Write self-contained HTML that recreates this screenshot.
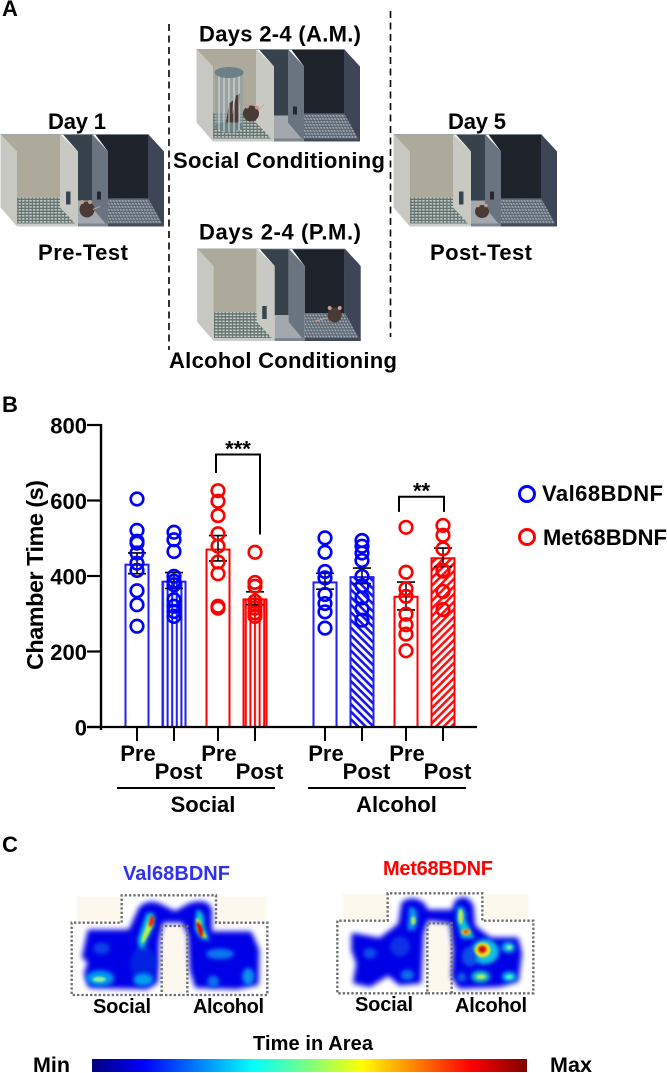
<!DOCTYPE html>
<html lang="en">
<head>
<meta charset="utf-8">
<title>Chamber time figure</title>
<style>
html,body{margin:0;padding:0;background:#fff;width:667px;height:1073px;overflow:hidden}
svg{display:block}
text{font-family:"Liberation Sans",Arial,sans-serif;font-weight:bold;fill:#000;font-size:22px}
</style>
</head>
<body>
<svg id="fig" xmlns="http://www.w3.org/2000/svg" width="667" height="1073" viewBox="0 0 667 1073">
<defs>
  <pattern id="gridL" width="3.6" height="3" patternUnits="userSpaceOnUse"><rect width="3.6" height="3" fill="#64736f"/><rect x=".5" y=".6" width="2.4" height="1.500" fill="#c8d0cc"/></pattern>
  <pattern id="gridR" width="3" height="3" patternUnits="userSpaceOnUse" patternTransform="skewX(25)"><rect width="3" height="3" fill="#5b6672"/><rect x=".4" y=".5" width="1.700" height="1.800" fill="#a5afb6"/></pattern>
  <pattern id="vblue" width="4.6" height="8" patternUnits="userSpaceOnUse"><rect width="4.6" height="8" fill="#fff"/><rect x="1" width="2" height="8" fill="#1f1ff0"/></pattern>
  <pattern id="vred" width="4.6" height="8" patternUnits="userSpaceOnUse"><rect width="4.6" height="8" fill="#fff"/><rect x="1" width="2" height="8" fill="#ff0000"/></pattern>
  <pattern id="dblue" width="5.4" height="5.4" patternUnits="userSpaceOnUse" patternTransform="rotate(45)"><rect width="5.4" height="5.4" fill="#fff"/><rect width="5.4" height="2.6" fill="#1414e8"/></pattern>
  <pattern id="dred" width="5.4" height="5.4" patternUnits="userSpaceOnUse" patternTransform="rotate(-45)"><rect width="5.4" height="5.4" fill="#fff"/><rect width="5.4" height="2.6" fill="#ff1010"/></pattern>
  <linearGradient id="jet" x1="0" x2="1" y1="0" y2="0">
    <stop offset="0" stop-color="#00007f"/><stop offset=".12" stop-color="#0000ff"/><stop offset=".37" stop-color="#00ffff"/><stop offset=".5" stop-color="#7fff7f"/><stop offset=".62" stop-color="#ffff00"/><stop offset=".87" stop-color="#ff0000"/><stop offset="1" stop-color="#7f0000"/>
  </linearGradient>
  <filter id="b8" x="-40%" y="-40%" width="180%" height="180%"><feGaussianBlur stdDeviation="8"/></filter>
  <filter id="b5" x="-60%" y="-60%" width="220%" height="220%"><feGaussianBlur stdDeviation="6"/></filter>
  <filter id="b3" x="-80%" y="-80%" width="260%" height="260%"><feGaussianBlur stdDeviation="3.500"/></filter>
  <symbol id="chamber" overflow="visible">
    <polygon points="0.5,0.5 60,0.5 60,64 17,64 0.5,64" fill="#aeaa9b"/>
    <polygon points="17,64 65,64 77,90 17,90" fill="url(#gridL)"/>
    <polygon points="0.5,0.5 17,18 17,93 0.5,74" fill="#c8c8c2"/>
    <polygon points="60,0.5 78,18 78,93 60,74" fill="#c9c9c4"/>
    <polygon points="63,1 92,1 92,67 78,67 78,18" fill="#37424c"/>
    <polygon points="78,67 97,67 108,93 78,93" fill="#a3a8ae"/>
    <polygon points="95,0.5 148,0.5 148,65 108,65 108,18" fill="#1e232b"/>
    <polygon points="92,0.5 108,18 108,93 92,74" fill="#697480"/>
    <polygon points="108,65 148,65 163,90 108,90" fill="url(#gridR)"/>
    <polygon points="148,0.5 164,18 164,93 148,65" fill="#3d4557"/>
    <polygon points="108,90 164,90 164,93 108,93" fill="#414b5c"/>
    <polygon points="17,90 77,90 77,93 17,93" fill="#c9cdca"/>
    <polygon points="78,90 108,90 108,93 78,93" fill="#7b8590"/>
    <polygon points="0.5,0.5 148,0.5 148,1.2 0.5,1.2" fill="#9aa4ac"/>
  </symbol>
</defs>

<!-- Panel A -->
<text x="2" y="16">A</text>
<line x1="169" y1="24" x2="169" y2="350" stroke="#000" stroke-width="1.6" stroke-dasharray="7 4.5"/>
<line x1="390.500" y1="11" x2="390.500" y2="337" stroke="#000" stroke-width="1.6" stroke-dasharray="7 4.5"/>

<g transform="translate(0,133.500)">
  <use href="#chamber"/>
  <rect x="66" y="58" width="4.500" height="13" fill="#3a4450"/>
  <rect x="97" y="58" width="4" height="8" fill="#23282f"/>
  <g><ellipse cx="87" cy="76" rx="7.500" ry="8" fill="#4a3a35"/><circle cx="82" cy="68.500" r="2" fill="#c79a92"/><circle cx="90" cy="68.500" r="2" fill="#c79a92"/><line x1="93" y1="76" x2="100" y2="73" stroke="#c79a92"/></g>
</g>
<g transform="translate(196,48.500)">
  <use href="#chamber"/>
  <rect x="97" y="58" width="4" height="8" fill="#23282f"/>
  <g>
    <rect x="19" y="22" width="28" height="58" fill="#8e9fa4" opacity=".6"/>
    <ellipse cx="33" cy="78" rx="14.500" ry="5" fill="#6f8288"/>
    <path d="M35 74 L40 47 L44 45 L43 74Z M30 74 L33 55 L37 52 L36 74Z" fill="#4b3b38"/>
    <path d="M23 22v60M28 22v62M33 22v62M38 22v62M43 22v60" stroke="#e4eaea" stroke-width=".9"/>
    <ellipse cx="33" cy="24" rx="14.500" ry="5.500" fill="#6b8088"/>
  </g>
  <g><ellipse cx="55" cy="65" rx="8" ry="8" fill="#4a3a35"/><circle cx="51" cy="58" r="2" fill="#c79a92"/><circle cx="61" cy="59" r="2" fill="#c79a92"/><path d="M62 62 L68 56" stroke="#c79a92" stroke-width=".7"/></g>
</g>
<g transform="translate(196.700,248)">
  <use href="#chamber"/>
  <rect x="65.500" y="58" width="4.500" height="13" fill="#3a4450"/>
  <g><ellipse cx="138" cy="67" rx="7" ry="7.500" fill="#4a3a35"/><circle cx="133" cy="60" r="2" fill="#c79a92"/><circle cx="143" cy="60" r="2" fill="#c79a92"/><path d="M131 70 L118 73" stroke="#c79a92"/></g>
</g>
<g transform="translate(393,133.500)">
  <use href="#chamber"/>
  <rect x="66" y="58" width="4.500" height="13" fill="#3a4450"/>
  <rect x="97" y="58" width="4" height="8" fill="#23282f"/>
  <g><ellipse cx="89" cy="78" rx="7" ry="6.500" fill="#4a3a35"/><circle cx="85" cy="72" r="1.800" fill="#c79a92"/><circle cx="93" cy="72" r="1.800" fill="#c79a92"/></g>
</g>

<text x="48" y="129" textLength="58" lengthAdjust="spacing">Day 1</text>
<text x="38" y="260" textLength="90" lengthAdjust="spacing">Pre-Test</text>
<text x="199" y="41.500" textLength="162" lengthAdjust="spacing">Days 2-4 (A.M.)</text>
<text x="173" y="168" textLength="212" lengthAdjust="spacing">Social Conditioning</text>
<text x="199" y="239.500" textLength="162" lengthAdjust="spacing">Days 2-4 (P.M.)</text>
<text x="169" y="368" textLength="228" lengthAdjust="spacing">Alcohol Conditioning</text>
<text x="448" y="129" textLength="58" lengthAdjust="spacing">Day 5</text>
<text x="430" y="260" textLength="102" lengthAdjust="spacing">Post-Test</text>

<!-- Panel B -->
<text x="2" y="412">B</text>
<g id="chart"></g>
<text transform="translate(43,670) rotate(-90)" textLength="190" lengthAdjust="spacing" style="font-size:23.500px">Chamber Time (s)</text>
<g>
  <g><circle cx="527" cy="494" r="7.500" fill="none" stroke="#0000ff" stroke-width="3"/><text x="542" y="501" textLength="121" lengthAdjust="spacing">Val68BDNF</text></g>
  <g><circle cx="527" cy="537" r="7.500" fill="none" stroke="#ff0000" stroke-width="3"/><text x="543" y="545" textLength="124" lengthAdjust="spacing">Met68BDNF</text></g>
</g>

<!-- Panel C -->
<text x="2" y="852">C</text>
<text x="123" y="880" textLength="107" lengthAdjust="spacing" style="fill:#3030f0;font-size:20px">Val68BDNF</text>
<text x="383" y="875" textLength="110" lengthAdjust="spacing" style="fill:#ff0000;font-size:20px">Met68BDNF</text>

<g transform="translate(50,850) scale(.33333)">
  <path d="M80 140H212V212H80Z M500 140H650V212H500Z M338 232H408V428H338Z" fill="#fdf8ee"/>
  <g filter="url(#b8)" fill="#0000e6" stroke="#0000e6" stroke-width="12" stroke-linejoin="round">
    <path d="M118 245H240L272 175Q300 150 335 170L375 190L420 165Q470 150 480 180L480 250H600L622 300L620 400L560 412L440 408L425 360L420 255L400 212H335L322 270L318 395L290 412L120 408L108 370L120 335L102 320Z"/>
  </g>
  <g filter="url(#b5)">
    <ellipse cx="280" cy="340" rx="40" ry="50" fill="#0030e0" opacity=".7"/>
    <ellipse cx="150" cy="385" rx="42" ry="24" fill="#0698f2"/>
    <ellipse cx="280" cy="390" rx="30" ry="18" fill="#06a0f0"/>
    <ellipse cx="510" cy="312" rx="42" ry="16" fill="#0a78ee"/>
    <ellipse cx="595" cy="380" rx="18" ry="26" fill="#0a90ee"/>
    <ellipse cx="490" cy="395" rx="18" ry="18" fill="#0a70ee"/>
    <ellipse cx="155" cy="295" rx="25" ry="18" fill="#0a40e8"/>
    <path d="M290 190Q325 180 310 230L280 295Q260 290 265 265Z" fill="#0ad0d8"/>
    <path d="M440 180Q465 180 462 225L478 270Q450 275 435 235Z" fill="#0ad0d8"/>
  </g>
  <g filter="url(#b3)">
    <ellipse cx="148" cy="388" rx="20" ry="8" fill="#8af0a0"/>
    <path d="M298 205Q318 200 308 228L280 280Q272 275 280 255Z" fill="#c8f040"/>
    <path d="M438 205Q452 205 455 235L470 262Q450 265 440 235Z" fill="#f0e020"/>
    <ellipse cx="304" cy="215" rx="8" ry="18" fill="#e82a10" transform="rotate(15 304 215)"/>
    <ellipse cx="450" cy="238" rx="8" ry="25" fill="#d81008" transform="rotate(-18 450 238)"/>
  </g>
  <path d="M335 435H65V218H215V136H498V218H652V435H335V228H412V435" fill="none" stroke="#6e6e6e" stroke-width="7" stroke-dasharray="7 6"/>
</g>
<text x="93" y="1013" textLength="58" lengthAdjust="spacing" style="font-size:20px">Social</text>
<text x="193" y="1013" textLength="71" lengthAdjust="spacing" style="font-size:20px">Alcohol</text>

<g transform="translate(320,850) scale(.33333)">
  <path d="M68 132H200V206H68Z M490 132H625V206H490Z M325 224H392V424H325Z" fill="#fdf8ee"/>
  <g filter="url(#b8)" fill="#0000e6" stroke="#0000e6" stroke-width="12" stroke-linejoin="round">
    <path d="M100 255L180 270L240 225L250 160Q280 140 310 165L320 185H400L410 155Q440 135 455 170L460 230L510 268H590L600 310L590 390L540 405L420 410L400 380L405 300L395 215L320 205L305 250L298 395L240 400L205 370L150 405L105 395L115 340L100 300Z"/>
  </g>
  <g filter="url(#b5)">
    <ellipse cx="150" cy="310" rx="20" ry="16" fill="#0a50ec"/>
    <ellipse cx="240" cy="290" rx="30" ry="30" fill="#0a30e8"/>
    <ellipse cx="262" cy="375" rx="20" ry="16" fill="#0a70ee"/>
    <path d="M268 170Q295 170 292 210L285 240H262Z" fill="#0a9af0"/>
    <path d="M412 170Q440 165 437 210L465 265H425L410 210Z" fill="#0ac8e0"/>
    <ellipse cx="495" cy="305" rx="42" ry="38" fill="#0ac0e8"/>
    <ellipse cx="565" cy="292" rx="20" ry="16" fill="#0ac0e8"/>
    <ellipse cx="482" cy="380" rx="28" ry="18" fill="#10c8c8"/>
    <ellipse cx="568" cy="380" rx="22" ry="15" fill="#0ac0e8"/>
    <ellipse cx="425" cy="382" rx="14" ry="14" fill="#0a60ea"/>
    <ellipse cx="450" cy="320" rx="24" ry="30" fill="#0a50ea"/>
  </g>
  <g filter="url(#b3)">
    <ellipse cx="280" cy="212" rx="7" ry="13" fill="#a8e860"/>
    <ellipse cx="422" cy="200" rx="7" ry="22" fill="#c8e850"/>
    <ellipse cx="438" cy="246" rx="15" ry="9" fill="#f0b020"/>
    <ellipse cx="438" cy="245" rx="7" ry="5" fill="#e04010"/>
    <ellipse cx="488" cy="300" rx="24" ry="22" fill="#f0e020"/>
    <ellipse cx="487" cy="298" rx="14" ry="13" fill="#d01008"/>
    <ellipse cx="483" cy="380" rx="14" ry="7" fill="#c0e860"/>
    <ellipse cx="568" cy="292" rx="8" ry="6" fill="#90f0a0"/>
    <ellipse cx="568" cy="381" rx="10" ry="6" fill="#50f0d0"/>
  </g>
  <path d="M322 430H52V212H203V130H487V212H640V430H322V220H395V430" fill="none" stroke="#6e6e6e" stroke-width="7" stroke-dasharray="7 6"/>
</g>
<text x="355" y="1011" textLength="58" lengthAdjust="spacing" style="font-size:20px">Social</text>
<text x="455" y="1012" textLength="72" lengthAdjust="spacing" style="font-size:20px">Alcohol</text>

<text x="253" y="1050" textLength="120" lengthAdjust="spacing" style="font-size:20px">Time in Area</text>
<text x="33" y="1072" textLength="37" lengthAdjust="spacing" style="font-size:21.500px">Min</text>
<rect x="92" y="1059" width="435" height="13" fill="url(#jet)"/>
<text x="550" y="1072" textLength="42" lengthAdjust="spacing" style="font-size:21.500px">Max</text>
</svg>

<script>
const categories = ["Pre", "Post", "Pre", "Post", "Pre", "Post", "Pre", "Post"];
const meanValues = [430, 385, 470, 338, 383, 397, 345, 447];
const semUpper = [461, 409, 507, 358, 407, 421, 384, 474];
const semLower = [406, 367, 440, 324, 365, 380, 310, 425];
const val1 = [604, 521, 492, 487, 461, 434, 415, 361, 324, 267];
const val2 = [516, 496, 465, 399, 386, 377, 337, 320, 306, 293];
const met1 = [626, 598, 560, 512, 479, 437, 406, 320, 315];
const met2 = [463, 383, 373, 333, 324, 315, 302, 293];
const val3 = [501, 463, 412, 395, 351, 327, 305, 262];
const val4 = [494, 479, 461, 441, 399, 374, 342, 313, 283];
const met3 = [529, 410, 366, 346, 299, 271, 246, 202];
const met4 = [534, 508, 472, 415, 413, 359, 311];
const seriesPoints = [val1, val2, met1, met2, val3, val4, met3, met4];
const barGenotype = ["val", "val", "met", "met", "val", "val", "met", "met"];
const barFill = ["none", "vertical", "none", "vertical", "none", "diagonal", "none", "diagonal"];
const yTicks = [0, 200, 400, 600, 800];
const groupLabels = ["Social", "Alcohol"];

const svgNS = "http://www.w3.org/2000/svg";
const chart = document.getElementById("chart");
function yScale(v) { return 727 - v * (302 / 800); }
function xScale(i) {
  const pair = Math.floor(i / 2);
  const group = Math.floor(i / 4);
  return 137 + (i - pair) * 37 + pair * 44 + group * 26;
}
function mk(tag, attrs) {
  const el = document.createElementNS(svgNS, tag);
  for (const k in attrs) el.setAttribute(k, attrs[k]);
  chart.appendChild(el);
  return el;
}
function colorOf(i) { return barGenotype[i] === "val" ? "#0000ff" : "#ff0000"; }
function fillOf(i) {
  if (barFill[i] === "none") return "#ffffff";
  const kind = barFill[i] === "vertical" ? "v" : "d";
  return "url(#" + kind + (barGenotype[i] === "val" ? "blue" : "red") + ")";
}

categories.forEach(function (c, i) {
  const cx = xScale(i);
  const bar = mk("rect", { x: cx - 11.5, y: yScale(meanValues[i]), width: 23, height: yScale(0) - yScale(meanValues[i]), fill: fillOf(i), stroke: colorOf(i) === "#0000ff" ? "#2020f0" : "#ff0000", "stroke-width": 2 });
  
  

  const stem = mk("line", { x1: cx, x2: cx, y1: yScale(semUpper[i]), y2: yScale(semLower[i]), stroke: "#000", "stroke-width": 1.5 });
  
  
  [semUpper[i], semLower[i]].forEach(function (v) {
    const cap = mk("line", { x1: cx - 9, x2: cx + 9, y1: yScale(v), y2: yScale(v), stroke: "#000", "stroke-width": 1.6 });
    
    
  });

  seriesPoints[i].forEach(function (v) {
    const p = mk("circle", { cx: cx, cy: yScale(v), r: 6.3, fill: "none", stroke: colorOf(i), "stroke-width": 2.6 });
    
    
  });

  const tick = mk("line", { x1: cx, x2: cx, y1: yScale(0), y2: 741, stroke: "#000", "stroke-width": 2 });
  
  

  const label = mk("text", { x: cx + (c === "Post" ? 4.5 : 1), y: c === "Post" ? 779 : 761, "text-anchor": "middle" });
  
  
  label.textContent = c;
});

const yAxis = mk("line", { x1: 101, x2: 101, y1: yScale(800) - 1, y2: yScale(0) + 3, stroke: "#000", "stroke-width": 2.4 });


const xAxis = mk("line", { x1: 87, x2: 477, y1: yScale(0), y2: yScale(0), stroke: "#000", "stroke-width": 2.2 });



yTicks.forEach(function (t) {
  const tk = mk("line", { x1: 87, x2: 101, y1: yScale(t), y2: yScale(t), stroke: "#000", "stroke-width": 2.2 });
  
  
  const lb = mk("text", { x: 87, y: yScale(t) + 8.5, "text-anchor": "end" });
  
  
  lb.textContent = t;
});

groupLabels.forEach(function (g, k) {
  const a = xScale(k * 4);
  const b = xScale(k * 4 + 3);
  const rule = mk("line", { x1: a - 20 + 3 * k, x2: b + 20 + 3 * k, y1: 788, y2: 788, stroke: "#000", "stroke-width": 2 });
  
  
  const t = mk("text", { x: (a + b) / 2 + 7 + 5.5 * k, y: 812, "text-anchor": "middle" });
  
  
  t.textContent = g;
});

function bracket(i, j, nudgeA, nudgeB, top, endA, endB, stars) {
  const a = xScale(i) + nudgeA;
  const b = xScale(j) + nudgeB;
  const path = mk("path", { d: "M" + a + " " + yScale(endA) + "V" + yScale(top) + "H" + b + "V" + yScale(endB), fill: "none", stroke: "#000", "stroke-width": 2 });
  
  
  const s = mk("text", { x: (a + b) / 2, y: yScale(top) + 2, "text-anchor": "middle" });
  
  
  s.textContent = stars;
}
bracket(2, 3, -2, 5, 722, 673, 510, "***");
bracket(6, 7, -7, 1, 610, 570, 570, "**");
</script>
</body>
</html>
